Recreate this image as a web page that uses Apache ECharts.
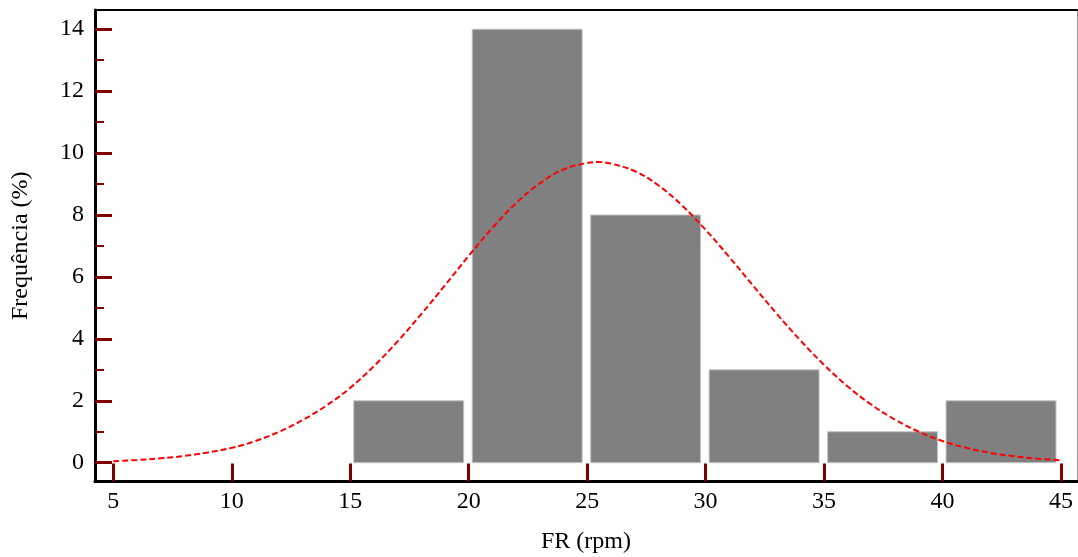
<!DOCTYPE html>
<html>
<head>
<meta charset="utf-8">
<script src="https://cdn.jsdelivr.net/npm/echarts@6/dist/echarts.min.js"></script>
<style>
html,body{margin:0;padding:0;background:#fff;}
#chart{width:1078px;height:557px;}
</style>
</head>
<body>
<div id="chart"></div>
<script>
// Histogram bins: [start, end]
const binStarts = [15, 20, 25, 30, 35, 40];
const binEnds = [20, 25, 30, 35, 40, 45];
const frequencies = [2, 14, 8, 3, 1, 2];

// Fitted curve
const curveX = [5,6,7,8,9,10,11,12,13,14,15,16,17,18,19,20,21,22,23,24,25,25.5,26,27,28,29,30,31,32,33,34,35,36,37,38,39,40,41,42,43,44,45];
const curveY = [0.05,0.09,0.14,0.22,0.33,0.48,0.70,1.00,1.38,1.85,2.42,3.12,3.92,4.80,5.73,6.68,7.58,8.38,9.02,9.47,9.68,9.71,9.66,9.42,8.96,8.31,7.52,6.64,5.72,4.81,3.95,3.16,2.46,1.87,1.39,1.00,0.70,0.48,0.32,0.21,0.13,0.08];

const xTickLabels = [5,10,15,20,25,30,35,40,45];
const yTickLabels = [0,2,4,6,8,10,12,14];
const yMinorTicks = [1,3,5,7,9,11,13];

const xTitle = 'FR (rpm)';
const yTitle = 'Frequência (%)';

const font = '"Liberation Serif", "Times New Roman", serif';
const X_MIN = 4.227, X_MAX = 45.675, Y_MIN = -0.607, Y_MAX = 14.62;

const barData = binStarts.map((s, i) => [s, binEnds[i], frequencies[i]]);
const curveData = curveX.map((x, i) => [x, curveY[i]]);

const chart = echarts.init(document.getElementById('chart'));
chart.setOption({
  animation: false,
  backgroundColor: '#fff',
  grid: {left: 95, top: 10, width: 982, height: 471.5, show: false, containLabel: false, outerBoundsMode: 'none'},
  xAxis: [{
    type: 'value', min: X_MIN, max: X_MAX, position: 'bottom',
    name: xTitle, nameLocation: 'middle', nameGap: 48,
    nameTextStyle: {fontFamily: font, fontSize: 24, color: '#000'},
    axisLine: {show: true, onZero: false, lineStyle: {color: '#000', width: 3}},
    axisTick: {show: true, inside: true, length: 18, customValues: xTickLabels, lineStyle: {color: '#800000', width: 3}},
    axisLabel: {show: true, customValues: xTickLabels, margin: 8, fontFamily: font, fontSize: 24, color: '#000'},
    splitLine: {show: false}
  }, {
    type: 'value', min: X_MIN, max: X_MAX, position: 'top',
    axisLine: {show: true, onZero: false, lineStyle: {color: '#000', width: 2}},
    axisTick: {show: false}, axisLabel: {show: false}, splitLine: {show: false}
  }],
  yAxis: [{
    type: 'value', min: Y_MIN, max: Y_MAX, position: 'left',
    name: yTitle, nameLocation: 'middle', nameGap: 62, nameRotate: 90,
    nameTextStyle: {fontFamily: font, fontSize: 24, color: '#000'},
    axisLine: {show: true, onZero: false, lineStyle: {color: '#000', width: 3}},
    axisTick: {show: true, inside: true, length: 17, customValues: yTickLabels, lineStyle: {color: '#800000', width: 3}},
    axisLabel: {show: true, customValues: yTickLabels, margin: 11, fontFamily: font, fontSize: 24, color: '#000'},
    splitLine: {show: false}
  }, {
    type: 'value', min: Y_MIN, max: Y_MAX, position: 'left',
    axisLine: {show: false},
    axisTick: {show: true, inside: true, length: 9, customValues: yMinorTicks, lineStyle: {color: '#800000', width: 2}},
    axisLabel: {show: false}, splitLine: {show: false}
  }, {
    type: 'value', min: Y_MIN, max: Y_MAX, position: 'right',
    axisLine: {show: true, onZero: false, lineStyle: {color: '#999', width: 1}},
    axisTick: {show: false}, axisLabel: {show: false}, splitLine: {show: false}
  }],
  series: [{
    type: 'custom',
    xAxisIndex: 0, yAxisIndex: 0,
    data: barData,
    renderItem: function (params, api) {
      const tl = api.coord([api.value(0), api.value(2)]);
      const br = api.coord([api.value(1), 0]);
      return {
        type: 'rect',
        shape: {x: tl[0] + 3.5, y: tl[1], width: br[0] - tl[0] - 8.5, height: br[1] - tl[1]},
        style: {fill: '#808080', stroke: '#c4c4c4', lineWidth: 1}
      };
    },
    z: 2
  }, {
    type: 'line',
    xAxisIndex: 0, yAxisIndex: 0,
    data: curveData,
    smooth: 0.4,
    symbol: 'none',
    lineStyle: {color: '#ff0000', width: 2, type: [6, 3]},
    z: 3
  }]
});
</script>
</body>
</html>
